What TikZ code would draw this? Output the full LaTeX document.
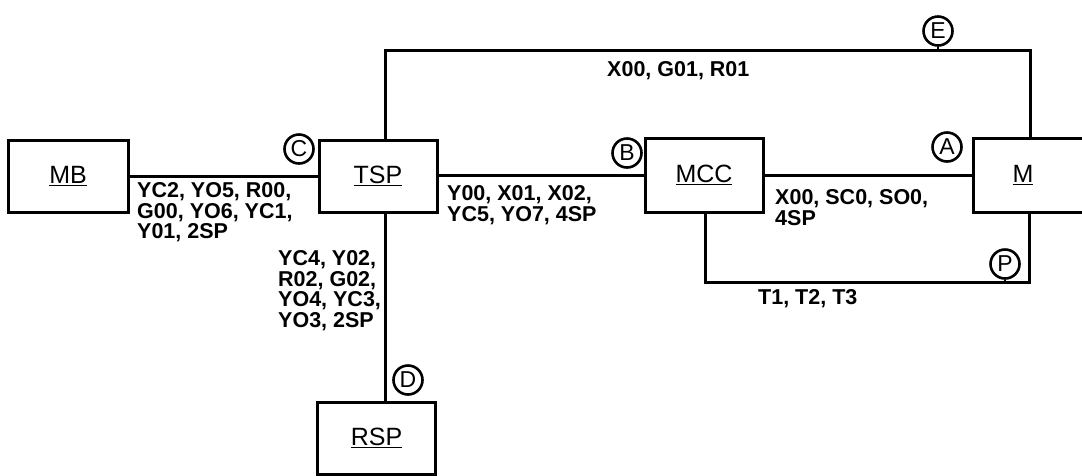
\documentclass[tikz,border=0pt]{standalone}
\usepackage{fontspec}
\setmainfont{Liberation Sans}
\usetikzlibrary{positioning}

\tikzset{
  unit/.style={draw, line width=3pt, minimum width=118pt, minimum height=72pt,
    inner sep=0pt, font=\fontsize{25}{27}\selectfont},
  port/.style={draw, circle, line width=2.6pt, minimum size=29pt, inner sep=0pt,
    font=\fontsize{23}{23}\selectfont},
  wire/.style={line width=3pt},
  sig/.style={align=left, anchor=north west, inner sep=0pt,
    font=\bfseries\fontsize{21.5}{20.8}\selectfont}
}

\begin{document}
\begin{tikzpicture}[x=1pt, y=-1pt]
  \useasboundingbox (0,0) rectangle (1082,475);
  \clip (0,0) rectangle (1082,475);
  % units
  \node[unit, minimum width=120pt] (MB) at (68,176) {\underline{MB}};
  \node[unit] (TSP) at (378,176) {\underline{TSP}};
  \node[unit, minimum height=74pt] (MCC) at (704,175) {\underline{MCC}};
  \node[unit, minimum width=122pt, minimum height=74pt,
    label={[xshift=-11pt, font=\fontsize{25}{27}\selectfont]center:\underline{M}}] (M) at (1034,175) {};
  \node[unit] (RSP) at (376.5,438) {\underline{RSP}};
  % corners of the wires
  \coordinate (tl) at (385,50);
  \coordinate (tr) at (1030,50);
  \coordinate (bl) at (705,282);
  \coordinate (br) at (1029,282);
  % wires
  \draw[wire] (MB.east) -- (MB.east -| TSP.west);
  \draw[wire] (TSP.east |- MCC.west) -- (MCC.west);
  \draw[wire] (MCC.east) -- (M.west);
  \draw[wire] (tl |- TSP.north) -- (tl) -- (tr) -- (tr |- M.north);
  \draw[wire] (tl |- TSP.south) -- (tl |- RSP.north);
  \draw[wire] (bl |- MCC.south) -- (bl) -- (br) -- (br |- M.south);
  % ports
  \node[port] (C) at (299,149) {C};
  \node[port] (B) at (627,153) {B};
  \node[port] (A) at (947,147) {A};
  \node[port] (E) at (938,31) {E};
  \node[port] (P) at (1005,264) {P};
  \node[port] (D) at (408,380) {D};
  \draw[wire, line width=2pt] (E.south) -- (E.south |- tr);
  \draw[wire, line width=2pt] (P.south) -- (P.south |- br);
  % signals
  \node[sig] (sMBT) at (137,182) {YC2, YO5, R00,\\G00, YO6, YC1,\\Y01, 2SP};
  \node[sig] (sTMCC) at (447,185) {Y00, X01, X02,\\YC5, YO7, 4SP};
  \node[sig] (sTRSP) at (278,250) {YC4, Y02,\\R02, G02,\\YO4, YC3,\\YO3, 2SP};
  \node[sig] (sTop) at (607,61) {X00, G01, R01};
  \node[sig] (sMCCM) at (775,189) {X00, SC0, SO0,\\4SP};
  \node[sig] (sLoop) at (758,289) {T1, T2, T3};
\end{tikzpicture}
\end{document}
